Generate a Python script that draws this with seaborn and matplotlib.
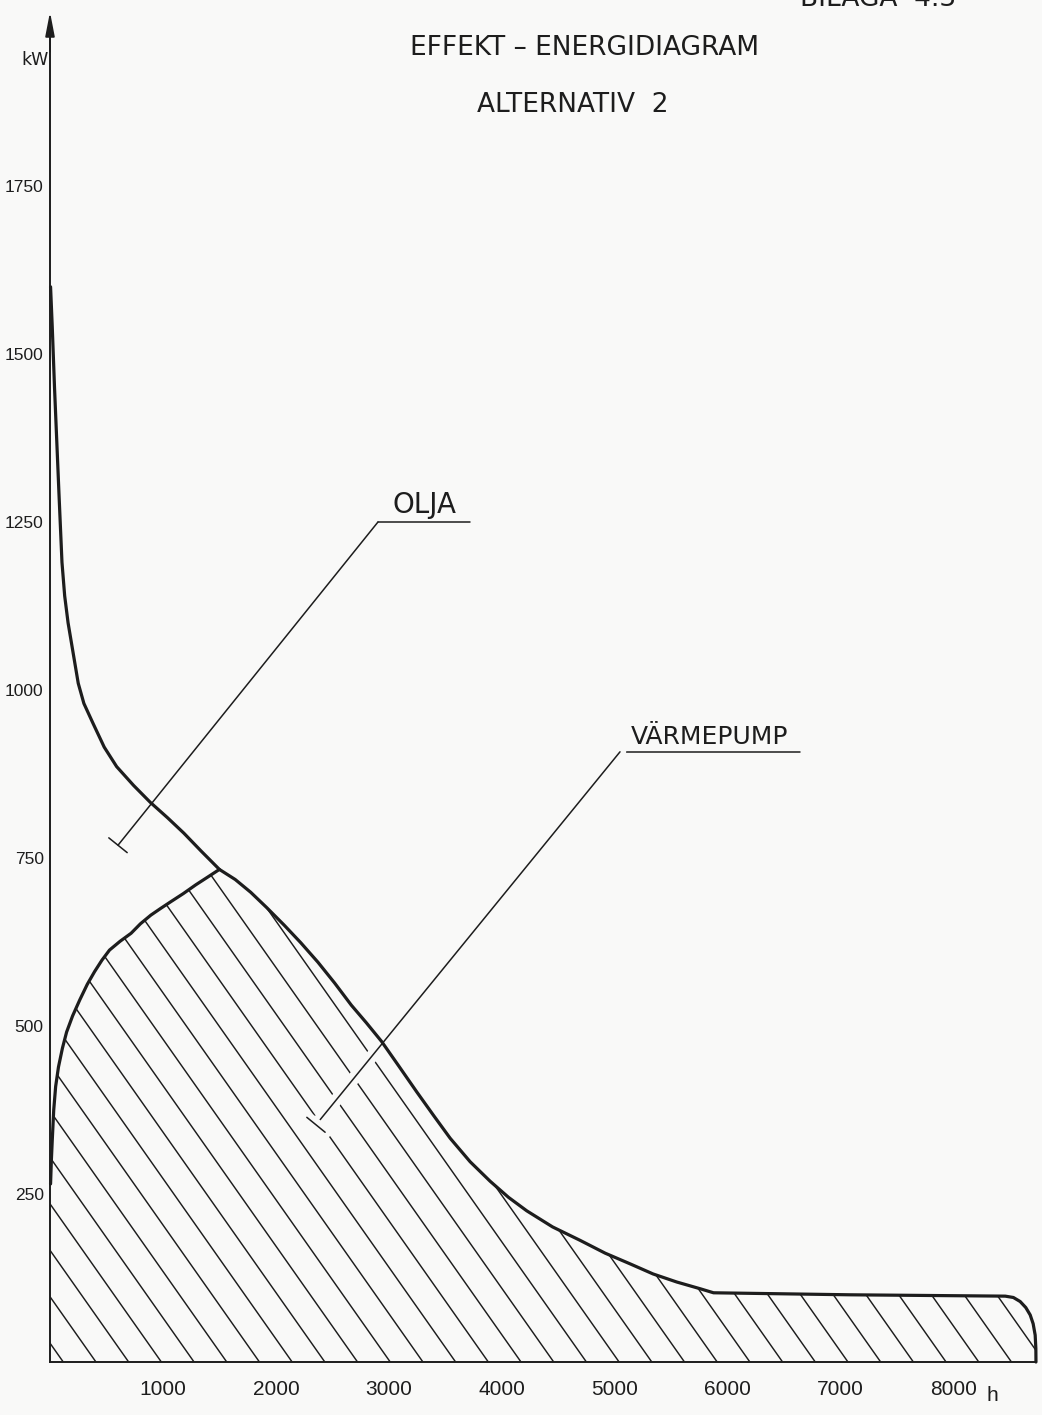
import numpy as np
import matplotlib
matplotlib.use("Agg")
import matplotlib.pyplot as plt
import seaborn as sns
from matplotlib import patheffects as pe

# ---------------- data ----------------
# total heat demand duration curve (hours per year, kW)
demand_h = [5, 20, 40, 60, 80, 106, 130, 160, 200, 250, 300, 382, 480, 590, 740, 887,
            1040, 1185, 1340, 1500, 1640, 1777, 1920, 2074, 2220, 2372, 2520, 2668,
            2800, 2936, 3090, 3247, 3400, 3543, 3720, 3897, 4060, 4221, 4450, 4694,
            4915, 5137, 5340, 5550, 5757, 5875, 7085, 8458, 8530, 8590, 8640, 8679,
            8705, 8723, 8729, 8730]
demand_kw = [1600, 1540, 1450, 1370, 1290, 1190, 1140, 1100, 1060, 1010, 980, 950, 915,
             886, 858, 833, 810, 787, 760, 733, 718, 699, 676, 650, 624, 595, 564, 531,
             505, 477, 440, 402, 366, 333, 298, 269, 245, 225, 201, 181, 162, 146, 131,
             119, 109, 103, 100, 98, 96, 90, 81, 70, 57, 40, 20, 0]
# heat-pump capacity curve (up to where it meets the demand curve)
hp_h = [5, 12, 20, 33, 50, 75, 110, 147, 200, 264, 330, 395, 460, 527, 620, 718, 800,
        893, 980, 1070, 1180, 1290, 1400, 1500]
hp_kw = [265, 300, 330, 375, 410, 439, 467, 491, 515, 539, 562, 581, 598, 613, 626, 638,
         652, 665, 675, 685, 697, 710, 722, 733]

x_ticks = [1000, 2000, 3000, 4000, 5000, 6000, 7000, 8000]
x_ticklabels = ["1000", "2000", "3000", "4000", "5000", "6000", "7000", "8000"]
y_ticks = [250, 500, 750, 1000, 1250, 1500, 1750]
y_ticklabels = ["250", "500", "750", "1000", "1250", "1500", "1750"]

title1 = "EFFEKT – ENERGIDIAGRAM"
title2 = "ALTERNATIV  2"
corner = "BILAGA  4.3"
label_oil = "OLJA"
label_hp = "VÄRMEPUMP"

# ---------------- style ----------------
sns.set_theme(style="white")
bg = "#f9f9f8"
ink = "#1d1d1d"
plt.rcParams["font.family"] = ["DejaVu Sans"]
num_font = ["Liberation Sans", "DejaVu Sans"]

W, H = 1042, 1415
fig = plt.figure(figsize=(W / 100, H / 100), dpi=100, facecolor=bg)
x_end = demand_h[-1]
px_per_h = 0.11294
px_per_kw = 0.672
y_top = 2000
ax = fig.add_axes([50 / W, 53 / H, x_end * px_per_h / W, y_top * px_per_kw / H])
ax.set_facecolor(bg)

# hatched heat-pump area: under the heat pump curve, then under the demand curve
j = demand_h.index(hp_h[-1])
reg_x = [0, 0] + hp_h + demand_h[j + 1:]
reg_y = [0, hp_kw[0]] + hp_kw + demand_kw[j + 1:]
region = ax.fill(reg_x, reg_y, facecolor="none", edgecolor="none", zorder=1)[0]

hatch_step = 289.5      # horizontal spacing of hatch lines (h)
hatch_slope = 0.2387    # kW per h (drawn falling to the right)
hatch_start = 407
k = np.arange(-30, 45)
for a in hatch_start + k * hatch_step:
    ln, = ax.plot([a, a - y_top / hatch_slope], [0, y_top], color=ink, lw=1.05, zorder=2)
    ln.set_clip_path(region)

# curves
sns.lineplot(x=demand_h, y=demand_kw, sort=False, estimator=None, color=ink,
             linewidth=2.3, ax=ax, zorder=5, clip_on=False)
sns.lineplot(x=hp_h, y=hp_kw, sort=False, estimator=None, color=ink,
             linewidth=2.3, ax=ax, zorder=5, clip_on=False)

ax.set_xlim(0, x_end)
ax.set_ylim(0, y_top)

# axes
for s in ["top", "right"]:
    ax.spines[s].set_visible(False)
for s in ["left", "bottom"]:
    ax.spines[s].set_color(ink)
    ax.spines[s].set_linewidth(1.4)
ax.annotate("", xy=(0, 2009), xytext=(0, 1950), annotation_clip=False,
            arrowprops=dict(arrowstyle="-|>,head_length=1.45,head_width=0.28",
                            mutation_scale=10, lw=1.3, color=ink,
                            shrinkA=0, shrinkB=0))

ax.set_xticks(x_ticks)
ax.set_xticklabels(x_ticklabels)
ax.set_yticks(y_ticks)
ax.set_yticklabels(y_ticklabels)
ax.tick_params(axis="x", direction="inout", length=7, width=1.2, color=ink,
               pad=9.5, labelsize=15, labelcolor=ink)
ax.tick_params(axis="y", direction="inout", length=7, width=1.2, color=ink,
               pad=1, labelsize=12.5, labelcolor=ink)
for t in ax.get_xticklabels() + ax.get_yticklabels():
    t.set_fontfamily(num_font)
ax.set_xlabel("")
ax.set_ylabel("")

# unit labels
fig.text(992 / W, 1 - 1401 / H, "h", ha="center", va="baseline", fontsize=15,
         color=ink, family=num_font)
fig.text(35 / W, 1 - 65 / H, "kW", ha="center", va="baseline", fontsize=12.5, color=ink)

# titles
fig.text(585 / W, 1 - 55 / H, title1, ha="center", va="baseline", fontsize=19, color=ink)
fig.text(573 / W, 1 - 112 / H, title2, ha="center", va="baseline", fontsize=19, color=ink)
fig.text(878 / W, 1 - 6 / H, corner, ha="center", va="baseline", fontsize=19, color=ink)

# leaders with labels
oil_line = ([2904, 3719], [1250, 1250])
oil_end = (602, 769)
hp_line = ([5047, 6641], [908, 908])
hp_end = (2355, 353)

for (xs, ys), end, text, fs, gap in [(oil_line, oil_end, label_oil, 20, False),
                                      (hp_line, hp_end, label_hp, 18, True)]:
    ax.plot(xs, ys, color=ink, lw=1.1, zorder=3, clip_on=False)
    effects = [pe.Stroke(linewidth=9, foreground=bg), pe.Normal()] if gap else None
    ax.annotate("", xy=end, xytext=(xs[0], ys[0]), zorder=3,
                arrowprops=dict(arrowstyle="|-|,widthA=0,widthB=0.85",
                                mutation_scale=10, lw=1.1, color=ink,
                                shrinkA=0, shrinkB=0, path_effects=effects))
    ax.annotate(text, xy=((xs[0] + xs[1]) / 2, ys[0]), xytext=(0, 3),
                textcoords="offset pixels", ha="center", va="bottom",
                fontsize=fs, color=ink, zorder=3)

fig.savefig("out.png", dpi=100, facecolor=bg)
